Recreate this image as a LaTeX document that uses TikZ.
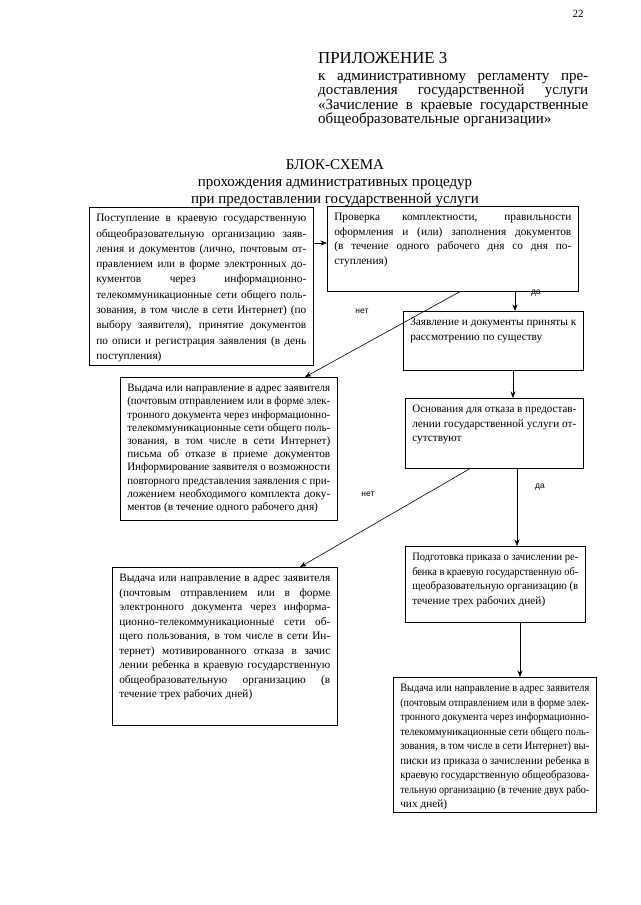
\documentclass[tikz,border=0pt]{standalone}
\usepackage{graphicx}
\usepackage{fontspec}
\setmainfont{Liberation Serif}
\newfontfamily\lsans{Liberation Sans}
\usetikzlibrary{arrows.meta,calc}
\newcommand\jl[1]{\setbox0=\hbox{#1}\ifdim\wd0>\linewidth
  \hbox to\linewidth{\resizebox{\linewidth}{\height}{\box0}}\else
  \hbox to\linewidth{#1}\fi}
\newcommand\lastln[1]{\setbox0=\hbox{#1}\ifdim\wd0>\linewidth
  \hbox to\linewidth{\resizebox{\linewidth}{\height}{\box0}}\else
  \hbox to\linewidth{#1\hfil}\fi}
\newcommand\boxtext[4][14.5pt]{\parbox[c][#3pt][t]{#2pt}{\rmfamily\fontsize{11.3pt}{#1}\selectfont\vskip 3pt #4}}
\tikzset{
  bx/.style={draw=black, line width=0.6pt, inner xsep=7pt, inner ysep=4pt, anchor=north west},
  arr/.style={draw=black, line width=0.6pt, -{Stealth[length=6.5pt,width=5pt]}},
  lbl/.style={font=\lsans\fontsize{8.5pt}{10pt}\selectfont, inner sep=0pt},
}
\begin{document}
\begin{tikzpicture}[x=1pt,y=-1pt]
\useasboundingbox[fill=white] (0,0) rectangle (640,905);
% page number
\node[inner sep=0pt, font=\rmfamily\fontsize{11pt}{13pt}\selectfont] (pg) at (578,14) {22};
% appendix header
\node[anchor=north west, inner sep=0pt] (app) at (318,52) {\parbox[t]{270pt}{\rmfamily\fontsize{15pt}{14.3pt}\selectfont
\hbox{\rmfamily\fontsize{16.8pt}{17pt}\selectfont ПРИЛОЖЕНИЕ 3}\vskip 3pt
\jl{к административному регламенту пре-}
\jl{доставления государственной услуги}
\jl{«Зачисление в краевые государственные}
\lastln{общеобразовательные организации»}}};
% title
\node[inner sep=0pt, align=center, font=\rmfamily\fontsize{15pt}{17pt}\selectfont] (ttl) at (335,183)
  {БЛОК-СХЕМА\\прохождения административных процедур\\при предоставлении государственной услуги};
% boxes
\node[bx] (B1) at (89,207) {\boxtext[15.3pt]{210}{150}{%
\jl{Поступление в краевую государственную}
\jl{общеобразовательную организацию заяв-}
\jl{ления и документов (лично, почтовым от-}
\jl{правлением или в форме электронных до-}
\jl{кументов через информационно-}
\jl{телекоммуникационные сети общего поль-}
\jl{зования, в том числе в сети Интернет) (по}
\jl{выбору заявителя), принятие документов}
\jl{по описи и регистрация заявления (в день}
\lastln{поступления)}}};
\node[bx] (B2) at (327,206) {\boxtext{237}{77}{%
\jl{Проверка комплектности, правильности}
\jl{оформления и (или) заполнения документов}
\jl{(в течение одного рабочего дня со дня по-}
\lastln{ступления)}}};
\node[bx] (B3) at (403,311) {\boxtext{166}{51}{%
\jl{Заявление и документы приняты к}
\lastln{рассмотрению по существу}}};
\node[bx] (B4) at (120,377) {\boxtext[13.2pt]{203}{135}{%
\jl{Выдача или направление в адрес заявителя}
\jl{(почтовым отправлением или в форме элек-}
\jl{тронного документа через информационно-}
\jl{телекоммуникационные сети общего поль-}
\jl{зования, в том числе в сети Интернет)}
\jl{письма об отказе в приеме документов}
\jl{Информирование заявителя о возможности}
\jl{повторного представления заявления с при-}
\jl{ложением необходимого комплекта доку-}
\lastln{ментов (в течение одного рабочего дня)}}};
\node[bx] (B5) at (405,398) {\boxtext{164}{62}{%
\jl{Основания для отказа в предостав-}
\jl{лении государственной услуги от-}
\lastln{сутствуют}}};
\node[bx] (B6) at (112,567) {\boxtext{211}{150}{%
\jl{Выдача или направление в адрес заявителя}
\jl{(почтовым отправлением или в форме}
\jl{электронного документа через информа-}
\jl{ционно-телекоммуникационные сети об-}
\jl{щего пользования, в том числе в сети Ин-}
\jl{тернет) мотивированного отказа в зачис}
\jl{лении ребенка в краевую государственную}
\jl{общеобразовательную организацию (в}
\lastln{течение трех рабочих дней)}}};
\node[bx] (B7) at (405,546) {\boxtext{166}{68}{%
\jl{Подготовка приказа о зачислении ре-}
\jl{бенка в краевую государственную об-}
\jl{щеобразовательную организацию (в}
\lastln{течение трех рабочих дней)}}};
\node[bx] (B8) at (393,677) {\boxtext{189}{127}{%
\jl{Выдача или направление в адрес заявителя}
\jl{(почтовым отправлением или в форме элек-}
\jl{тронного документа через информационно-}
\jl{телекоммуникационные сети общего поль-}
\jl{зования, в том числе в сети Интернет) вы-}
\jl{писки из приказа о зачислении ребенка в}
\jl{краевую государственную общеобразова-}
\jl{тельную организацию (в течение двух рабо-}
\lastln{чих дней)}}};
% connector x positions
\coordinate (h1) at (0,243);
\coordinate (v1) at (515,0);
\coordinate (v2) at (460,0);
\coordinate (v3) at (305,0);
\coordinate (v4) at (513,0);
\coordinate (v5) at (517,0);
\coordinate (v6) at (470,0);
\coordinate (v7) at (300,0);
\coordinate (v8) at (520,0);
% connectors
\draw[arr] (B1.east |- h1) -- (B2.west |- h1);
\draw[arr] (B2.south -| v1) -- (B3.north -| v1);
\draw[arr] (B2.south -| v2) -- (B4.north -| v3);
\draw[arr] (B3.south -| v4) -- (B5.north -| v4);
\draw[arr] (B5.south -| v5) -- (B7.north -| v5);
\draw[arr] (B5.south -| v6) -- (B6.north -| v7);
\draw[arr] (B7.south -| v8) -- (B8.north -| v8);
% labels
\node[lbl] (da1) at (536,293) {да};
\node[lbl] (net1) at (362,311) {нет};
\node[lbl] (da2) at (540,487) {да};
\node[lbl] (net2) at (368,494) {нет};
\end{tikzpicture}
\end{document}
